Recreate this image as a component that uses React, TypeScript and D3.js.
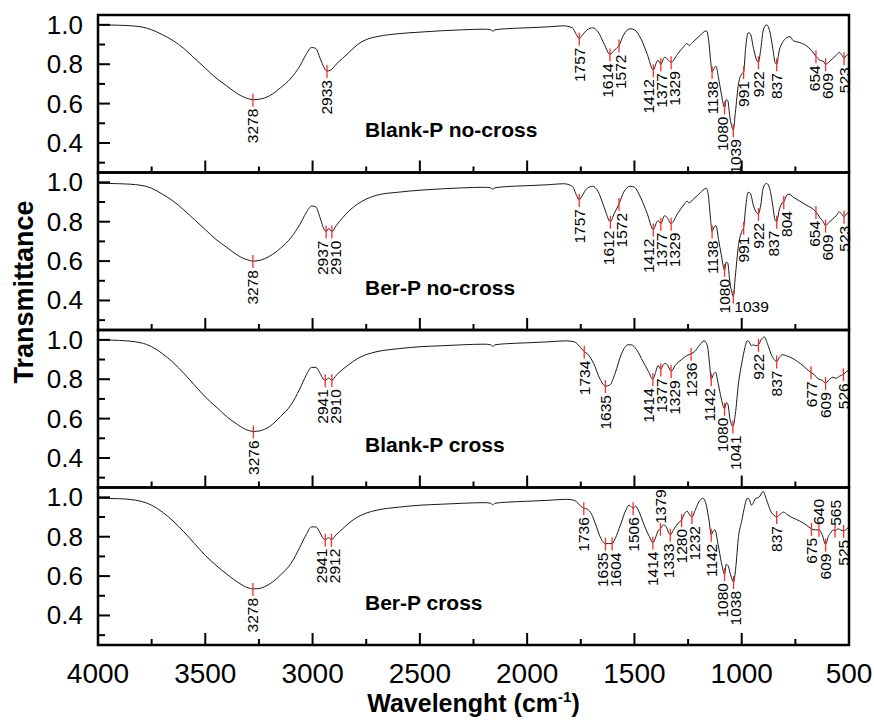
import React from "react";
import * as d3 from "d3";

const W = 874;
const H = 724;
const PLOT = { left: 98, right: 849, top: 15, bottom: 645 };
const FONT = "'Liberation Sans', Arial, Helvetica, sans-serif";

const panelNames = ["Blank-P no-cross", "Ber-P no-cross", "Blank-P cross", "Ber-P cross"];
const xMajorTicks = [4000, 3500, 3000, 2500, 2000, 1500, 1000, 500];
const xMinorTicks = [3750, 3250, 2750, 2250, 1750, 1250, 750];
const yMajorTicks = [0.4, 0.6, 0.8, 1.0];
const yMinorTicks = [0.3, 0.5, 0.7, 0.9];

const spectrumBlankNoCross: [number, number][] = [
  [4000, 1.0], [3900, 0.998], [3800, 0.99], [3750, 0.975], [3700, 0.95], [3650, 0.92], [3600, 0.88],
  [3550, 0.83], [3500, 0.78], [3450, 0.73], [3400, 0.69], [3350, 0.65], [3300, 0.625], [3278, 0.62],
  [3250, 0.622], [3200, 0.64], [3150, 0.68], [3100, 0.73], [3060, 0.79], [3030, 0.85], [3005, 0.885],
  [2985, 0.88], [2965, 0.83], [2945, 0.78], [2933, 0.765], [2915, 0.77], [2890, 0.8], [2860, 0.83],
  [2830, 0.86], [2790, 0.9], [2750, 0.925], [2700, 0.94], [2600, 0.955], [2500, 0.963], [2400, 0.97],
  [2300, 0.975], [2200, 0.978], [2170, 0.975], [2160, 0.968], [2150, 0.975], [2100, 0.98], [2000, 0.985],
  [1900, 0.99], [1830, 0.995], [1790, 0.985], [1770, 0.95], [1757, 0.93], [1745, 0.945], [1720, 0.975],
  [1695, 0.985], [1670, 0.965], [1640, 0.9], [1614, 0.85], [1595, 0.87], [1572, 0.895], [1550, 0.95],
  [1520, 0.98], [1500, 0.975], [1470, 0.93], [1440, 0.85], [1412, 0.77], [1395, 0.815], [1390, 0.82],
  [1377, 0.8], [1360, 0.835], [1350, 0.83], [1329, 0.81], [1300, 0.85], [1270, 0.89], [1255, 0.905],
  [1245, 0.895], [1230, 0.91], [1200, 0.94], [1175, 0.965], [1165, 0.97], [1155, 0.93], [1145, 0.82],
  [1138, 0.76], [1128, 0.78], [1120, 0.79], [1108, 0.73], [1095, 0.65], [1080, 0.58], [1072, 0.62],
  [1065, 0.615], [1055, 0.53], [1045, 0.48], [1039, 0.465], [1030, 0.55], [1015, 0.7], [1000, 0.75],
  [991, 0.76], [982, 0.88], [970, 0.96], [960, 0.955], [945, 0.88], [930, 0.82], [922, 0.81], [912, 0.87],
  [900, 0.97], [885, 1.0], [870, 0.97], [855, 0.88], [845, 0.81], [837, 0.8], [825, 0.87], [810, 0.91],
  [790, 0.935], [775, 0.94], [760, 0.92], [730, 0.91], [700, 0.895], [675, 0.87], [654, 0.84], [635, 0.82],
  [620, 0.815], [609, 0.8], [595, 0.81], [575, 0.83], [560, 0.845], [545, 0.86], [535, 0.85], [523, 0.83],
  [512, 0.845], [500, 0.85],
];

const spectrumBerNoCross: [number, number][] = [
  [4000, 0.995], [3900, 0.993], [3800, 0.985], [3750, 0.97], [3700, 0.94], [3650, 0.905], [3600, 0.86],
  [3550, 0.81], [3500, 0.76], [3450, 0.71], [3400, 0.67], [3350, 0.63], [3300, 0.605], [3278, 0.6],
  [3250, 0.603], [3200, 0.625], [3150, 0.665], [3100, 0.72], [3060, 0.785], [3030, 0.845], [3005, 0.88],
  [2985, 0.875], [2965, 0.82], [2950, 0.77], [2937, 0.75], [2925, 0.765], [2910, 0.75], [2890, 0.78],
  [2860, 0.82], [2830, 0.855], [2790, 0.89], [2750, 0.915], [2700, 0.935], [2600, 0.95], [2500, 0.96],
  [2400, 0.967], [2300, 0.972], [2200, 0.975], [2170, 0.972], [2160, 0.965], [2150, 0.972], [2100, 0.978],
  [2000, 0.983], [1900, 0.988], [1830, 0.993], [1790, 0.98], [1770, 0.935], [1757, 0.91], [1745, 0.93],
  [1720, 0.97], [1695, 0.98], [1670, 0.955], [1640, 0.87], [1612, 0.8], [1595, 0.84], [1572, 0.89],
  [1550, 0.95], [1520, 0.98], [1500, 0.975], [1470, 0.92], [1440, 0.84], [1412, 0.76], [1395, 0.8],
  [1390, 0.805], [1377, 0.79], [1360, 0.83], [1350, 0.825], [1329, 0.79], [1300, 0.84], [1270, 0.885],
  [1255, 0.905], [1245, 0.895], [1230, 0.91], [1200, 0.94], [1175, 0.965], [1165, 0.97], [1155, 0.93],
  [1145, 0.81], [1138, 0.75], [1128, 0.775], [1120, 0.78], [1108, 0.71], [1095, 0.63], [1080, 0.555],
  [1072, 0.595], [1065, 0.59], [1055, 0.49], [1045, 0.44], [1039, 0.42], [1030, 0.52], [1015, 0.68],
  [1000, 0.75], [991, 0.77], [982, 0.87], [970, 0.95], [960, 0.945], [945, 0.88], [930, 0.845], [922, 0.84],
  [912, 0.88], [900, 0.97], [885, 0.995], [870, 0.97], [855, 0.88], [845, 0.81], [837, 0.8], [825, 0.86],
  [812, 0.895], [804, 0.9], [790, 0.935], [780, 0.94], [760, 0.925], [730, 0.905], [700, 0.885],
  [675, 0.87], [654, 0.85], [635, 0.82], [620, 0.8], [609, 0.78], [595, 0.795], [575, 0.815], [560, 0.83],
  [545, 0.85], [535, 0.84], [523, 0.825], [512, 0.84], [500, 0.845],
];

const spectrumBlankCross: [number, number][] = [
  [4000, 1.0], [3900, 0.997], [3800, 0.985], [3750, 0.965], [3700, 0.93], [3650, 0.885], [3600, 0.83],
  [3550, 0.77], [3500, 0.71], [3450, 0.66], [3400, 0.61], [3350, 0.57], [3300, 0.54], [3276, 0.535],
  [3250, 0.537], [3200, 0.56], [3150, 0.61], [3100, 0.67], [3060, 0.75], [3030, 0.82], [3005, 0.86],
  [2985, 0.86], [2965, 0.83], [2950, 0.8], [2941, 0.795], [2925, 0.805], [2910, 0.795], [2890, 0.82],
  [2860, 0.85], [2830, 0.875], [2790, 0.905], [2750, 0.925], [2700, 0.94], [2600, 0.955], [2500, 0.965],
  [2400, 0.97], [2300, 0.975], [2200, 0.978], [2170, 0.975], [2160, 0.967], [2150, 0.975], [2100, 0.98],
  [2000, 0.985], [1900, 0.99], [1820, 0.995], [1780, 0.99], [1750, 0.96], [1734, 0.94], [1720, 0.93],
  [1690, 0.88], [1660, 0.8], [1635, 0.765], [1615, 0.77], [1590, 0.83], [1560, 0.93], [1530, 0.975],
  [1515, 0.975], [1490, 0.95], [1460, 0.89], [1435, 0.84], [1414, 0.8], [1400, 0.84], [1390, 0.87],
  [1377, 0.85], [1365, 0.875], [1355, 0.88], [1345, 0.87], [1329, 0.84], [1310, 0.87], [1280, 0.9],
  [1255, 0.92], [1236, 0.93], [1220, 0.94], [1195, 0.975], [1175, 0.995], [1160, 0.97], [1150, 0.88],
  [1142, 0.8], [1132, 0.825], [1122, 0.835], [1110, 0.78], [1095, 0.7], [1080, 0.65], [1072, 0.68],
  [1065, 0.675], [1055, 0.6], [1041, 0.56], [1030, 0.62], [1015, 0.78], [1000, 0.88], [985, 0.96],
  [975, 0.995], [965, 0.99], [955, 0.97], [945, 0.975], [935, 0.97], [922, 0.975], [910, 1.0],
  [895, 1.015], [880, 0.98], [860, 0.92], [845, 0.895], [837, 0.89], [825, 0.91], [810, 0.925],
  [795, 0.92], [770, 0.91], [740, 0.89], [710, 0.865], [690, 0.845], [677, 0.835], [660, 0.82],
  [640, 0.8], [625, 0.795], [609, 0.78], [595, 0.795], [575, 0.81], [560, 0.805], [545, 0.815],
  [526, 0.825], [510, 0.84], [500, 0.845],
];

const spectrumBerCross: [number, number][] = [
  [4000, 0.995], [3900, 0.993], [3800, 0.98], [3750, 0.96], [3700, 0.925], [3650, 0.88], [3600, 0.825],
  [3550, 0.765], [3500, 0.705], [3450, 0.655], [3400, 0.61], [3350, 0.57], [3300, 0.54], [3278, 0.535],
  [3250, 0.537], [3200, 0.56], [3150, 0.605], [3100, 0.665], [3060, 0.745], [3030, 0.81], [3005, 0.85],
  [2985, 0.85], [2965, 0.82], [2950, 0.79], [2941, 0.785], [2925, 0.795], [2912, 0.785], [2890, 0.81],
  [2860, 0.84], [2830, 0.87], [2790, 0.9], [2750, 0.92], [2700, 0.935], [2600, 0.95], [2500, 0.96],
  [2400, 0.965], [2300, 0.97], [2200, 0.973], [2170, 0.97], [2160, 0.962], [2150, 0.97], [2100, 0.975],
  [2000, 0.98], [1900, 0.985], [1820, 0.99], [1780, 0.985], [1750, 0.955], [1736, 0.945], [1720, 0.94],
  [1700, 0.915], [1680, 0.86], [1660, 0.8], [1635, 0.765], [1620, 0.765], [1604, 0.765], [1590, 0.79],
  [1565, 0.86], [1540, 0.935], [1525, 0.96], [1506, 0.945], [1495, 0.955], [1480, 0.93], [1455, 0.86],
  [1430, 0.8], [1414, 0.77], [1400, 0.8], [1390, 0.83], [1379, 0.84], [1365, 0.86], [1355, 0.855],
  [1333, 0.81], [1315, 0.84], [1295, 0.87], [1280, 0.885], [1265, 0.92], [1255, 0.93], [1245, 0.915],
  [1232, 0.9], [1215, 0.94], [1195, 0.985], [1180, 0.995], [1165, 0.96], [1152, 0.88], [1142, 0.81],
  [1132, 0.83], [1125, 0.835], [1110, 0.76], [1095, 0.67], [1080, 0.61], [1072, 0.66], [1065, 0.655],
  [1050, 0.6], [1038, 0.57], [1028, 0.64], [1015, 0.8], [1000, 0.88], [985, 0.96], [975, 0.995],
  [965, 0.99], [955, 0.96], [945, 0.975], [935, 0.995], [920, 1.0], [900, 1.03], [885, 0.99], [865, 0.93],
  [845, 0.905], [837, 0.9], [825, 0.91], [805, 0.925], [785, 0.91], [760, 0.895], [730, 0.88],
  [700, 0.86], [675, 0.84], [660, 0.835], [640, 0.835], [625, 0.81], [609, 0.76], [597, 0.8], [585, 0.82],
  [574, 0.835], [565, 0.83], [550, 0.84], [540, 0.835], [525, 0.83], [510, 0.84], [500, 0.85],
];

const peaksBlankNoCross = [3278, 2933, 1757, 1614, 1572, 1412, 1377, 1329, 1138, 1080, 1039, 991, 922, 837, 654, 609, 523];
const peaksBerNoCross = [3278, 2937, 2910, 1757, 1612, 1572, 1412, 1377, 1329, 1138, 1080, 1039, 991, 922, 837, 804, 654, 609, 523];
const peaksBlankCross = [3276, 2941, 2910, 1734, 1635, 1414, 1377, 1329, 1236, 1142, 1080, 1041, 922, 837, 677, 609, 526];
const peaksBerCross = [3278, 2941, 2912, 1736, 1635, 1604, 1506, 1414, 1379, 1333, 1280, 1232, 1142, 1080, 1038, 837, 675, 640, 609, 565, 525];

const labelsAbove: number[][] = [[], [], [], [1379, 640, 565]];
const labelsHorizontal: number[][] = [[], [1039], [], []];

const spectra = [spectrumBlankNoCross, spectrumBerNoCross, spectrumBlankCross, spectrumBerCross];
const peaks = [peaksBlankNoCross, peaksBerNoCross, peaksBlankCross, peaksBerCross];

const Y_DOMAIN: [number, number] = [0.25, 1.05];
const PEAK_FONT = 15.5;

function valueAt(spec: [number, number][], w: number): number {
  for (let i = 0; i < spec.length - 1; i++) {
    const [w0, v0] = spec[i];
    const [w1, v1] = spec[i + 1];
    if (w <= w0 && w >= w1) {
      const t = w0 === w1 ? 0 : (w0 - w) / (w0 - w1);
      return v0 + t * (v1 - v0);
    }
  }
  return spec[spec.length - 1][1];
}

type LabelItem = {
  w: number;
  x: number;
  cy: number;
  lx: number;
  mode: "below" | "above" | "horizontal";
  y0: number;
  y1: number;
};

export default function App() {
  const x = d3.scaleLinear().domain([4000, 500]).range([PLOT.left, PLOT.right]);
  const panelH = (PLOT.bottom - PLOT.top) / panelNames.length;

  const panels = panelNames.map((name, i) => {
    const top = PLOT.top + i * panelH;
    const y = d3.scaleLinear().domain(Y_DOMAIN).range([top + panelH, top]);
    const spec = spectra[i];
    const line = d3
      .line<[number, number]>()
      .x((d) => x(d[0]))
      .y((d) => y(d[1]))
      .curve(d3.curveMonotoneX);

    const items: LabelItem[] = peaks[i].map((w) => {
      const cy = y(valueAt(spec, w));
      const mode: LabelItem["mode"] = labelsHorizontal[i].includes(w)
        ? "horizontal"
        : labelsAbove[i].includes(w)
        ? "above"
        : "below";
      const len = String(w).length * 0.556 * PEAK_FONT;
      let y0 = cy + 9;
      let y1 = cy + 9 + len;
      if (mode === "above") {
        y0 = cy - 5 - len;
        y1 = cy - 5;
      } else if (mode === "horizontal") {
        y0 = cy + 6;
        y1 = cy + 18;
      }
      return { w, x: x(w), cy, lx: x(w), mode, y0, y1 };
    });

    // simple label spreading to avoid overlap of rotated labels
    const rot = items.filter((d) => d.mode !== "horizontal").sort((a, b) => a.x - b.x);
    const gap = 13;
    for (let it = 0; it < 30; it++) {
      for (let a = 0; a < rot.length; a++) {
        for (let b = a + 1; b < rot.length; b++) {
          const p = rot[a];
          const q = rot[b];
          const d = q.lx - p.lx;
          const overlapV = p.y0 < q.y1 && q.y0 < p.y1;
          if (overlapV && d < gap) {
            const s = (gap - d) / 2;
            p.lx -= s;
            q.lx += s;
          }
        }
      }
    }

    return { name, top, y, path: line(spec) || "", items };
  });

  return (
    <svg
      width={W}
      height={H}
      viewBox={`0 0 ${W} ${H}`}
      style={{ position: "absolute", left: 0, top: 0, display: "block", background: "#fff" }}
      fontFamily={FONT}
    >
      <rect x={0} y={0} width={W} height={H} fill="#fff" />
      {panels.map((p, i) => (
        <g key={p.name}>
          {/* spectrum */}
          <path d={p.path} fill="none" stroke="#1a1a1a" strokeWidth={1} />
          {/* y ticks */}
          {yMajorTicks.map((t) => (
            <g key={"ym" + t}>
              <line x1={PLOT.left} x2={PLOT.left + 12} y1={p.y(t)} y2={p.y(t)} stroke="#000" strokeWidth={2} />
              <text
                x={PLOT.left - 15}
                y={p.y(t)}
                textAnchor="end"
                dominantBaseline="central"
                fontSize={26}
                fill="#000"
              >
                {d3.format(".1f")(t)}
              </text>
            </g>
          ))}
          {yMinorTicks.map((t) => (
            <line key={"yn" + t} x1={PLOT.left} x2={PLOT.left + 7} y1={p.y(t)} y2={p.y(t)} stroke="#000" strokeWidth={2} />
          ))}
          {/* x ticks at panel bottom */}
          {xMajorTicks.map((t) => (
            <line
              key={"xm" + t}
              x1={x(t)}
              x2={x(t)}
              y1={p.top + panelH}
              y2={p.top + panelH - 12}
              stroke="#000"
              strokeWidth={2}
            />
          ))}
          {xMinorTicks.map((t) => (
            <line
              key={"xn" + t}
              x1={x(t)}
              x2={x(t)}
              y1={p.top + panelH}
              y2={p.top + panelH - 6}
              stroke="#000"
              strokeWidth={2}
            />
          ))}
          {/* peak markers */}
          {p.items.map((it) => (
            <line
              key={"pk" + it.w}
              x1={it.x}
              x2={it.x}
              y1={it.cy - 6}
              y2={it.cy + 7}
              stroke="#ff2b2b"
              strokeWidth={1.3}
            />
          ))}
          {p.items.map((it) => {
            if (it.mode === "horizontal") {
              return (
                <text key={"lb" + it.w} x={it.x + 1} y={it.cy + 15} fontSize={PEAK_FONT} fill="#000">
                  {it.w}
                </text>
              );
            }
            const ay = it.mode === "above" ? it.cy - 5 : it.cy + 9;
            return (
              <text
                key={"lb" + it.w}
                transform={`translate(${it.lx},${ay}) rotate(-90)`}
                textAnchor={it.mode === "above" ? "start" : "end"}
                dominantBaseline="central"
                fontSize={PEAK_FONT}
                fill="#000"
              >
                {it.w}
              </text>
            );
          })}
          {/* panel name */}
          <text x={365} y={p.top + 122} fontSize={21} fontWeight="bold" fill="#000">
            {p.name}
          </text>
          {/* frame */}
          <rect
            x={PLOT.left}
            y={p.top}
            width={PLOT.right - PLOT.left}
            height={panelH}
            fill="none"
            stroke="#000"
            strokeWidth={2.5}
          />
        </g>
      ))}
      {/* x tick labels */}
      {xMajorTicks.map((t) => (
        <text key={"xl" + t} x={x(t)} y={683} textAnchor="middle" fontSize={28} fill="#000">
          {t}
        </text>
      ))}
      {/* axis titles */}
      <text x={(PLOT.left + PLOT.right) / 2} y={712} textAnchor="middle" fontSize={25} fontWeight="bold" fill="#000">
        Wavelenght (cm
        <tspan dy={-10} fontSize={15}>
          -1
        </tspan>
        <tspan dy={10}>)</tspan>
      </text>
      <text
        transform="translate(24,292) rotate(-90)"
        textAnchor="middle"
        dominantBaseline="central"
        fontSize={27}
        fontWeight="bold"
        fill="#000"
      >
        Transmittance
      </text>
    </svg>
  );
}
